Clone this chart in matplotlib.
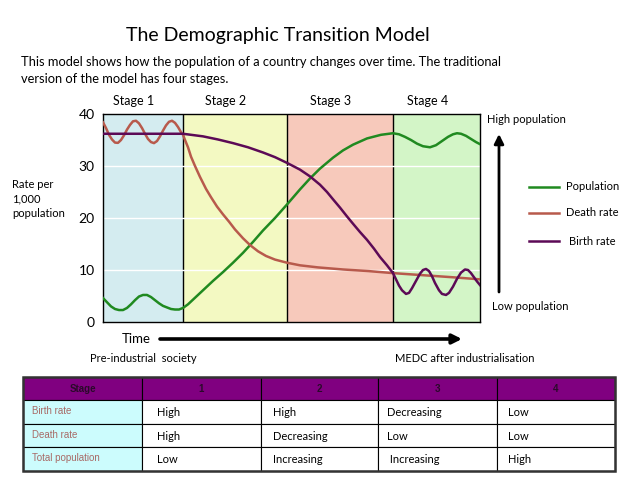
import matplotlib
matplotlib.use("Agg")
import matplotlib.pyplot as plt
from matplotlib.patches import Rectangle

# ---------------- data ----------------
stage_names = ["Stage 1", "Stage 2", "Stage 3", "Stage 4"]
stage_edges = [0, 80, 184, 290, 377]          # time units (arbitrary)
stage_colors = ["#d4ecf0", "#f3f9c2", "#f7c9bb", "#d3f5c7"]

death_x = [0, 3, 6, 9, 12, 15, 18, 21, 24, 27, 30, 33, 36, 39, 42, 45, 48, 51,
           54, 57, 60, 63, 66, 69, 72, 75, 78, 80, 82, 85, 88, 92, 97, 103, 108,
           114, 120, 126, 132, 140, 147, 155, 163, 172, 184, 197, 215, 240, 265,
           290, 320, 350, 377]
death_y = [38.4, 37.3, 36.0, 35.1, 34.5, 34.45, 35.0, 35.9, 37.0, 37.9, 38.6,
           38.7, 38.2, 37.3, 36.2, 35.2, 34.6, 34.4, 34.8, 35.7, 36.8, 37.8,
           38.5, 38.7, 38.3, 37.5, 36.5, 36.0, 35.0, 33.6, 31.8, 30.0, 27.9,
           25.6, 24.0, 22.2, 20.7, 19.3, 17.8, 16.1, 14.8, 13.6, 12.7, 12.0,
           11.4, 10.9, 10.5, 10.1, 9.8, 9.4, 9.0, 8.6, 8.2]

birth_x = [0, 80, 100, 115, 130, 145, 160, 172, 184, 197, 207, 217, 224, 230,
           237, 244, 250, 257, 264, 271, 277, 284, 290, 293, 296, 299, 303, 306,
           309, 313, 317, 320, 323, 326, 329, 332, 336, 339, 343, 346, 350, 354,
           358, 362, 365, 368, 371, 374, 377]
birth_y = [36.2, 36.2, 35.7, 35.1, 34.4, 33.6, 32.6, 31.7, 30.6, 29.3, 28.0,
           26.4, 25.0, 23.6, 22.0, 20.3, 18.9, 17.3, 15.8, 14.1, 12.5, 10.9,
           9.4, 8.2, 7.0, 6.1, 5.4, 5.6, 6.5, 7.9, 9.3, 10.0, 10.2, 9.8, 8.8,
           7.5, 6.1, 5.4, 5.2, 5.6, 6.8, 8.3, 9.5, 10.1, 10.0, 9.4, 8.6, 7.8, 7.1]

pop_x = [0, 4, 8, 12, 16, 20, 24, 28, 32, 36, 40, 44, 48, 52, 56, 60, 64, 68,
         72, 76, 80, 85, 90, 95, 100, 110, 120, 130, 140, 150, 160, 172, 184,
         197, 207, 217, 230, 240, 250, 264, 278, 290, 296, 302, 308, 314, 320,
         327, 333, 339, 345, 350, 354, 358, 363, 368, 373, 377]
pop_y = [4.6, 3.8, 3.0, 2.5, 2.3, 2.3, 2.7, 3.4, 4.2, 4.9, 5.2, 5.2, 4.8, 4.2,
         3.6, 3.1, 2.8, 2.5, 2.4, 2.4, 2.7, 3.4, 4.3, 5.2, 6.1, 7.9, 9.6, 11.4,
         13.3, 15.4, 17.6, 20.0, 22.6, 25.5, 27.6, 29.5, 31.6, 33.0, 34.1, 35.3,
         36.0, 36.3, 36.1, 35.6, 35.0, 34.3, 33.8, 33.6, 34.0, 34.8, 35.6, 36.1,
         36.3, 36.2, 35.8, 35.2, 34.6, 34.2]

y_ticks = [0, 10, 20, 30, 40]
legend_labels = ["Population", "Death rate", "Birth rate"]
line_colors = ["#208a20", "#b85a4c", "#5c0a56"]

table_header = ["Stage", "1", "2", "3", "4"]
table_rows = ["Birth rate", "Death rate", "Total population"]
table_cells = [["High", "High", "Decreasing", "Low"],
               ["High", "Decreasing", "Low", "Low"],
               ["Low", "Increasing", " Increasing", "High"]]

# ---------------- figure ----------------
W, H = 638, 479
fig = plt.figure(figsize=(W / 100, H / 100), dpi=100)
fig.patch.set_facecolor("white")
FONT = "Lato"

ov = fig.add_axes([0, 0, 1, 1])
ov.set_xlim(0, W)
ov.set_ylim(H, 0)
ov.axis("off")

# main plot axes (pixel box 103..480 x 114..322)
L, R, T, B = 103, 480, 114, 322
ax = fig.add_axes([L / W, 1 - B / H, (R - L) / W, (B - T) / H])
ax.set_xlim(stage_edges[0], stage_edges[-1])
ax.set_ylim(0, 40)
for i in range(4):
    ax.axvspan(stage_edges[i], stage_edges[i + 1], color=stage_colors[i], zorder=0, lw=0)
for x in stage_edges[1:-1]:
    ax.axvline(x, color="black", lw=1.0, zorder=1)
for y in y_ticks[1:-1]:
    ax.axhline(y, color="white", lw=1.0, zorder=1)
ax.plot(pop_x, pop_y, color=line_colors[0], lw=1.8, zorder=3)
ax.plot(death_x, death_y, color=line_colors[1], lw=1.8, zorder=3)
ax.plot(birth_x, birth_y, color=line_colors[2], lw=1.8, zorder=4)
ax.set_xticks([])
ax.set_yticks(y_ticks)
ax.set_yticklabels([str(v) for v in y_ticks], fontsize=10, family=FONT)
ax.tick_params(axis="y", length=0, pad=6)
for s in ax.spines.values():
    s.set_color("black")
    s.set_linewidth(1.0)

# stage labels (sit slightly left of each band's centre)
for i, name in enumerate(stage_names):
    cx = L + (stage_edges[i] + stage_edges[i + 1]) / 2 / stage_edges[-1] * (R - L) - 9
    ov.text(cx, 101, name, ha="center", va="center", fontsize=9, family=FONT)

# titles
ov.text(278, 35, "The Demographic Transition Model", ha="center", va="center",
        fontsize=14, family=FONT)
ov.text(21, 62, "This model shows how the population of a country changes over time. The traditional",
        ha="left", va="center", fontsize=9.3, family=FONT)
ov.text(21, 79, "version of the model has four stages.",
        ha="left", va="center", fontsize=9.3, family=FONT)

# y label
ov.text(12, 199, "Rate per\n1,000\npopulation", ha="left", va="center",
        fontsize=8, family=FONT, linespacing=1.4)

# time arrow
ov.text(122, 339, "Time", ha="left", va="center", fontsize=9.5, family=FONT)
ov.annotate("", xy=(462, 339), xytext=(160, 339),
            arrowprops=dict(arrowstyle="-|>", lw=2.6, color="black", mutation_scale=14,
                            shrinkA=0, shrinkB=0))
ov.text(90, 358, "Pre-industrial  society", ha="left", va="center", fontsize=8, family=FONT)
ov.text(395, 358, "MEDC after industrialisation", ha="left", va="center", fontsize=8, family=FONT)

# population arrow
ov.text(487, 119, "High population", ha="left", va="center", fontsize=8, family=FONT)
ov.text(492, 307, "Low population", ha="left", va="center", fontsize=8, family=FONT)
ov.annotate("", xy=(499, 134), xytext=(499, 292),
            arrowprops=dict(arrowstyle="-|>", lw=2.0, color="black", mutation_scale=14,
                            shrinkA=0, shrinkB=0))

# legend
leg_y = [187, 213, 241]
leg_tx = [566, 566, 569]
for lab, c, yy, tx in zip(legend_labels, line_colors, leg_y, leg_tx):
    ov.plot([529, 559], [yy, yy], color=c, lw=1.8)
    ov.text(tx, yy, lab, ha="left", va="center", fontsize=8, family=FONT)

# table
col_edges = [23, 142, 261, 378, 497, 615]
row_edges = [377, 400, 424, 447, 471]
text_off = [9, 15, 12, 9, 11]
for j in range(5):
    ov.add_patch(Rectangle((col_edges[j], row_edges[0]), col_edges[j + 1] - col_edges[j],
                           row_edges[1] - row_edges[0], facecolor="#800080",
                           edgecolor="black", lw=0.8))
    ov.text((col_edges[j] + col_edges[j + 1]) / 2, (row_edges[0] + row_edges[1]) / 2 + 0.5,
            table_header[j], ha="center", va="center", fontsize=7, fontweight="bold",
            family="Liberation Sans", color="#2a0a2a")
for i in range(3):
    y0, y1 = row_edges[i + 1], row_edges[i + 2]
    ov.add_patch(Rectangle((col_edges[0], y0), col_edges[1] - col_edges[0], y1 - y0,
                           facecolor="#ccfcfd", edgecolor="black", lw=0.8))
    ov.text(col_edges[0] + text_off[0], (y0 + y1) / 2 - 1, table_rows[i], ha="left",
            va="center", fontsize=7, family="Liberation Sans", color="#a86a66")
    for j in range(4):
        ov.add_patch(Rectangle((col_edges[j + 1], y0), col_edges[j + 2] - col_edges[j + 1],
                               y1 - y0, facecolor="white", edgecolor="black", lw=0.8))
        ov.text(col_edges[j + 1] + text_off[j + 1], (y0 + y1) / 2 + 0.5, table_cells[i][j],
                ha="left", va="center", fontsize=8, family=FONT)
ov.add_patch(Rectangle((col_edges[0], row_edges[0]), col_edges[-1] - col_edges[0],
                       row_edges[-1] - row_edges[0], fill=False, edgecolor="#333333", lw=1.8))

fig.savefig("out.png", dpi=100)
